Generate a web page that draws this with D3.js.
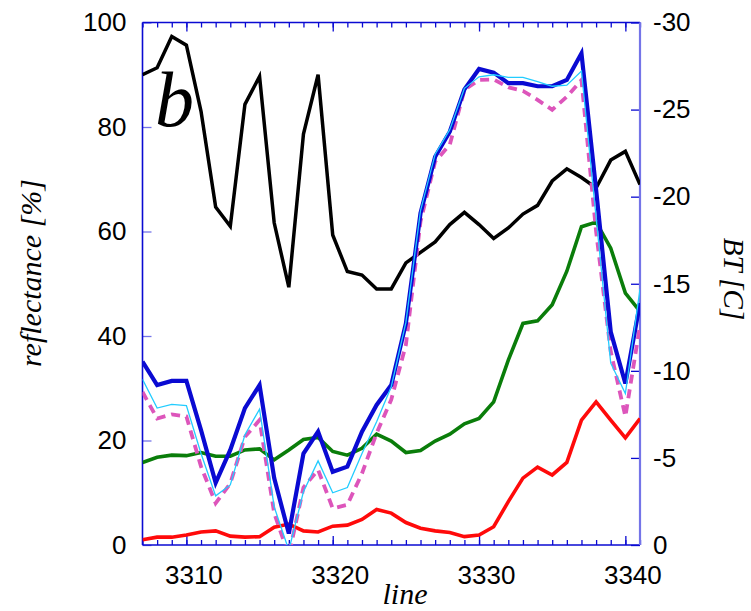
<!DOCTYPE html>
<html>
<head>
<meta charset="utf-8">
<script src="https://cdn.jsdelivr.net/npm/d3@7"></script>
<style>
    body { margin: 0; background: #fff; }
    svg { display: block; }
</style>
</head>
<body>
<svg id="canvas" width="751" height="611"></svg>
<script>
    "use strict";

    // scan lines
    var lines = d3.range(3307, 3342);

    // reflectance [%]
    var blueRefl = [35.1, 30.6, 31.4, 31.4, 22.0, 11.9, 18.2, 26.2, 30.6, 12.8, 2.2, 17.5, 21.7, 14.0, 15.0, 21.7, 26.8, 30.6,
        42.4, 63.5, 74.3, 79.1, 87.2, 91.1, 90.4, 88.4, 88.4, 87.8, 87.8, 89.0, 94.1, 68.0, 40.8, 30.9, 46.3];
    var cyanRefl = [31.7, 26.2, 26.9, 26.7, 17.5, 9.4, 11.5, 21.1, 26.0, 7.3, -1.0, 10.2, 16.1, 10.0, 11.0, 17.5, 23.6, 30.3,
        42.6, 64.0, 74.8, 79.5, 87.4, 89.6, 90.0, 89.5, 89.5, 88.7, 87.8, 88.0, 90.7, 62.7, 34.8, 29.0, 49.0];
    var pinkRefl = [29.3, 24.2, 25.0, 24.6, 15.0, 8.0, 11.8, 20.7, 23.9, 6.1, -2.0, 11.0, 14.4, 7.0, 7.7, 13.7, 21.4, 27.8,
        38.3, 61.9, 73.4, 76.6, 87.1, 89.0, 89.1, 87.6, 86.9, 85.2, 83.3, 85.8, 89.0, 60.0, 37.0, 24.6, 42.0];
    var greenRefl = [15.8, 16.8, 17.2, 17.1, 17.7, 17.0, 17.0, 18.2, 18.4, 16.3, 18.2, 20.2, 20.6, 17.9, 17.2, 18.5, 21.2, 19.9,
        17.7, 18.1, 19.9, 21.2, 23.2, 24.2, 27.4, 35.4, 42.4, 42.9, 46.0, 52.4, 60.9, 61.8, 56.8, 48.2, 44.7];
    var redRefl = [1.0, 1.5, 1.5, 1.9, 2.5, 2.7, 1.7, 1.5, 1.6, 3.4, 4.0, 2.7, 2.5, 3.6, 3.8, 4.9, 6.8, 6.1,
        4.3, 3.2, 2.7, 2.4, 1.6, 1.9, 3.5, 8.3, 12.8, 14.9, 13.4, 15.8, 23.9, 27.4, 23.9, 20.5, 24.2];

    // brightness temperature [C]
    var btValues = [-27.0, -27.4, -29.2, -28.7, -24.9, -19.4, -18.3, -25.3, -26.9, -18.5, -14.8, -23.6, -27.0, -17.8, -15.7,
        -15.5, -14.7, -14.7, -16.2, -16.8, -17.4, -18.4, -19.1, -18.4, -17.6, -18.2, -19.0, -19.5, -20.9, -21.6, -21.1,
        -20.5, -22.1, -22.6, -20.7];

    var xTicks = [3310, 3320, 3330, 3340];
    var reflTicks = [0, 20, 40, 60, 80, 100];
    var btTicks = [0, -5, -10, -15, -20, -25, -30];

    var LEFT = 142.5, RIGHT = 640, TOP = 22.5, BOTTOM = 545;
    var AXIS_BLUE = "#0a0ad2";
    var AXIS_LIGHT = "#7474e8";
    var SERIF = "'Liberation Serif', 'Times New Roman', Times, serif";

    var svg = d3.select(document.getElementById("canvas"));

    var x = d3.scaleLinear().domain([3307, 3341]).range([LEFT, RIGHT]);
    var yRefl = d3.scaleLinear().domain([0, 100]).range([BOTTOM, TOP]);
    var yBT = d3.scaleLinear().domain([0, -30]).range([BOTTOM, TOP]);

    svg.append("clipPath").attr("id", "plotClip")
        .append("rect")
        .attr("x", LEFT).attr("y", TOP)
        .attr("width", RIGHT - LEFT).attr("height", BOTTOM - TOP);

    // Axes
    function styleAxis(g, color) {
        g.select(".domain").remove();
        g.selectAll(".tick line").attr("stroke", color).attr("stroke-width", 1.3);
        g.selectAll(".tick text")
            .attr("fill", "#000")
            .attr("font-family", "'Liberation Sans', Arial, Helvetica, sans-serif")
            .attr("font-size", "26px");
    }

    svg.append("g")
        .attr("transform", "translate(0," + BOTTOM + ")")
        .call(d3.axisBottom(x).ticks(34).tickSize(-5).tickFormat(""))
        .call(styleAxis, AXIS_BLUE);
    svg.append("g")
        .attr("transform", "translate(0," + BOTTOM + ")")
        .call(d3.axisBottom(x).tickValues(xTicks).tickSize(-9).tickPadding(21).tickFormat(d3.format("d")))
        .call(styleAxis, AXIS_BLUE)
        .selectAll(".tick text").attr("dx", 7);
    svg.append("g")
        .attr("transform", "translate(0," + TOP + ")")
        .call(d3.axisTop(x).ticks(34).tickSize(-5).tickFormat(""))
        .call(styleAxis, AXIS_BLUE);
    svg.append("g")
        .attr("transform", "translate(0," + TOP + ")")
        .call(d3.axisTop(x).tickValues(xTicks).tickSize(-9).tickFormat(""))
        .call(styleAxis, AXIS_BLUE);
    svg.append("g")
        .attr("transform", "translate(" + LEFT + ",0)")
        .call(d3.axisLeft(yRefl).tickValues(reflTicks).tickSize(-9).tickPadding(16).tickFormat(d3.format("d")))
        .call(styleAxis, AXIS_LIGHT);
    svg.append("g")
        .attr("transform", "translate(" + RIGHT + ",0)")
        .call(d3.axisRight(yBT).tickValues(btTicks).tickSize(-9).tickPadding(13).tickFormat(function(d) {
            return d === 0 ? "0" : "-" + Math.abs(d);
        }))
        .call(styleAxis, AXIS_BLUE);

    // Frame
    svg.append("line").attr("x1", LEFT).attr("x2", RIGHT).attr("y1", TOP).attr("y2", TOP)
        .attr("stroke", AXIS_BLUE).attr("stroke-width", 1.6);
    svg.append("line").attr("x1", LEFT).attr("x2", RIGHT).attr("y1", BOTTOM).attr("y2", BOTTOM)
        .attr("stroke", AXIS_BLUE).attr("stroke-width", 1.6);
    svg.append("line").attr("x1", LEFT).attr("x2", LEFT).attr("y1", TOP).attr("y2", BOTTOM)
        .attr("stroke", AXIS_BLUE).attr("stroke-width", 1.6);
    svg.append("line").attr("x1", RIGHT).attr("x2", RIGHT).attr("y1", TOP).attr("y2", BOTTOM)
        .attr("stroke", AXIS_LIGHT).attr("stroke-width", 2.2);

    // Series
    var series = [
        { values: redRefl, scale: yRefl, color: "#ff0a0a", width: 3.6, dash: null },
        { values: greenRefl, scale: yRefl, color: "#0a7d0a", width: 3.6, dash: null },
        { values: btValues, scale: yBT, color: "#000000", width: 3.5, dash: null },
        { values: pinkRefl, scale: yRefl, color: "#dd55bb", width: 3.8, dash: "9,6" },
        { values: blueRefl, scale: yRefl, color: "#0a0ad2", width: 4.2, dash: null },
        { values: cyanRefl, scale: yRefl, color: "#22ccff", width: 1.3, dash: null }
    ];

    var plot = svg.append("g").attr("clip-path", "url(#plotClip)");
    plot.selectAll("path.series")
        .data(series)
        .enter().append("path")
        .attr("class", "series")
        .attr("fill", "none")
        .attr("stroke", function(s) { return s.color; })
        .attr("stroke-width", function(s) { return s.width; })
        .attr("stroke-dasharray", function(s) { return s.dash; })
        .attr("stroke-linejoin", "miter")
        .attr("d", function(s) {
            return d3.line()
                .x(function(v, i) { return x(lines[i]); })
                .y(function(v) { return s.scale(v); })(s.values);
        });

    // Labels
    svg.append("text")
        .attr("x", 155).attr("y", 126)
        .attr("font-family", SERIF)
        .attr("font-style", "italic")
        .attr("font-size", "78px")
        .text("b");

    svg.append("text")
        .attr("transform", "translate(41,273) rotate(-90)")
        .attr("text-anchor", "middle")
        .attr("font-family", SERIF)
        .attr("font-style", "italic")
        .attr("font-size", "30px")
        .text("reflectance [%]");

    svg.append("text")
        .attr("transform", "translate(724,279) rotate(90)")
        .attr("text-anchor", "middle")
        .attr("font-family", SERIF)
        .attr("font-style", "italic")
        .attr("font-size", "29px")
        .text("BT [C]");

    svg.append("text")
        .attr("x", 405).attr("y", 604)
        .attr("text-anchor", "middle")
        .attr("font-family", SERIF)
        .attr("font-style", "italic")
        .attr("font-size", "30px")
        .text("line");
</script>
</body>
</html>
